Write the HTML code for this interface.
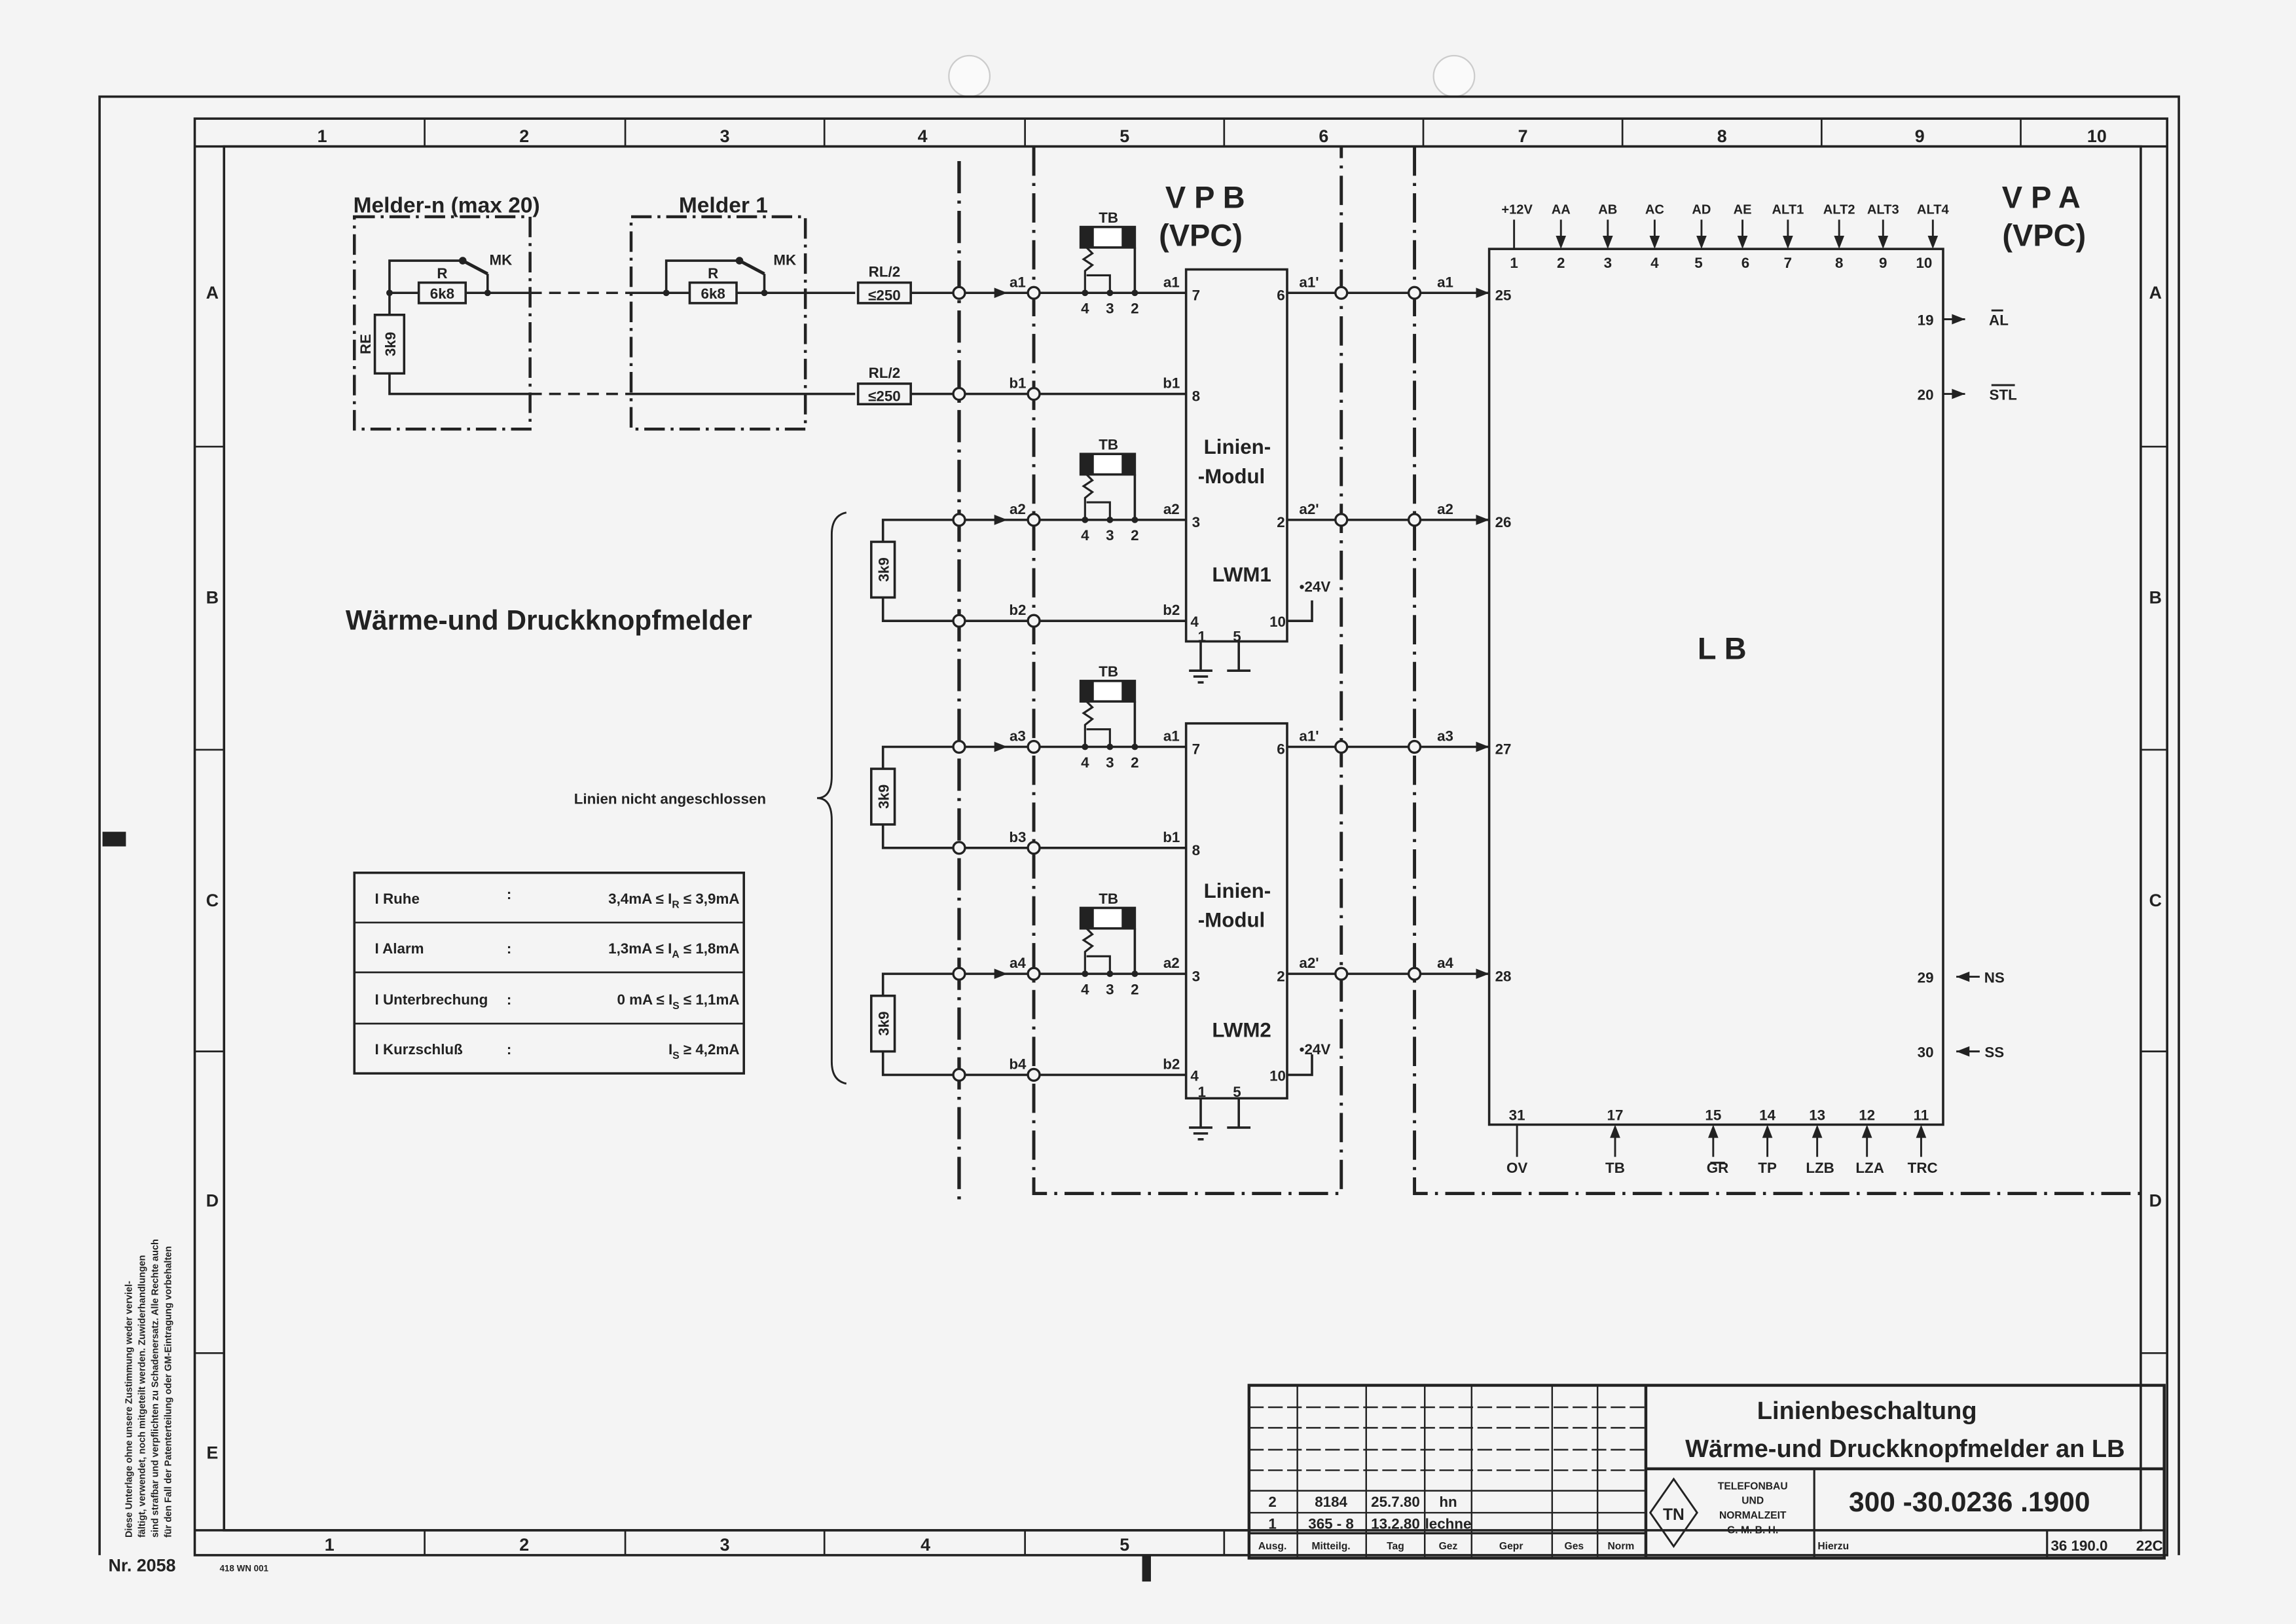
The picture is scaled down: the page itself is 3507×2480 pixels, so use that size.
<!DOCTYPE html>
<html><head><meta charset="utf-8"><style>
html,body{margin:0;padding:0;background:#f4f4f4}
svg{display:block}
text{font-family:"Liberation Sans Narrow","Liberation Sans",sans-serif;fill:#222;font-weight:600}
</style></head><body>
<svg width="3507" height="2480" viewBox="0 0 1568 1109" preserveAspectRatio="none" xmlns="http://www.w3.org/2000/svg">
<defs>
<g id="tb">
 <rect x="738" y="-45" width="37" height="14" fill="#fff" stroke="#222" stroke-width="1.6"/>
 <rect x="738" y="-45" width="9" height="14" fill="#222"/>
 <rect x="766" y="-45" width="9" height="14" fill="#222"/>
 <polyline points="742,-31 746,-27 740,-23 746,-19 741,-15 741,0" fill="none" stroke="#222" stroke-width="1.4"/>
 <polyline points="742,-12 758,-12 758,0" fill="none" stroke="#222" stroke-width="1.4"/>
 <line x1="775" y1="-31" x2="775" y2="0" stroke="#222" stroke-width="1.6"/>
 <circle cx="741" cy="0" r="2.2" fill="#222"/><circle cx="758" cy="0" r="2.2" fill="#222"/><circle cx="775" cy="0" r="2.2" fill="#222"/>
</g>
<g id="node"><circle r="4" fill="#f4f4f4" stroke="#222" stroke-width="1.5"/></g>
<path id="arR" d="M0,0 l-9,-3.5 v7z" fill="#222"/>
</defs>
<rect width="1568" height="1109" fill="#f4f4f4"/>
<circle cx="662" cy="52" r="14" fill="#fafafa" stroke="#ccc"/><circle cx="993" cy="52" r="14" fill="#fafafa" stroke="#ccc"/>
<g stroke="#222" fill="none" stroke-width="1.6">
<polyline points="68,1062 68,66 1488,66 1488,1062"/>
<rect x="133" y="81" width="1347" height="981"/>
<line x1="133" y1="100" x2="1480" y2="100"/>
<line x1="133" y1="1045" x2="853" y2="1045"/>
<rect x="153" y="100" width="1309" height="945"/>
<g stroke-width="1.2">
<line x1="290" y1="81" x2="290" y2="100"/><line x1="427" y1="81" x2="427" y2="100"/><line x1="563" y1="81" x2="563" y2="100"/><line x1="700" y1="81" x2="700" y2="100"/><line x1="836" y1="81" x2="836" y2="100"/><line x1="972" y1="81" x2="972" y2="100"/><line x1="1108" y1="81" x2="1108" y2="100"/><line x1="1244" y1="81" x2="1244" y2="100"/><line x1="1380" y1="81" x2="1380" y2="100"/>
<line x1="290" y1="1045" x2="290" y2="1062"/><line x1="427" y1="1045" x2="427" y2="1062"/><line x1="563" y1="1045" x2="563" y2="1062"/><line x1="700" y1="1045" x2="700" y2="1062"/><line x1="836" y1="1045" x2="836" y2="1062"/>
<line x1="133" y1="305" x2="153" y2="305"/><line x1="133" y1="512" x2="153" y2="512"/><line x1="133" y1="718" x2="153" y2="718"/><line x1="133" y1="924" x2="153" y2="924"/>
<line x1="1462" y1="305" x2="1480" y2="305"/><line x1="1462" y1="512" x2="1480" y2="512"/><line x1="1462" y1="718" x2="1480" y2="718"/><line x1="1462" y1="924" x2="1480" y2="924"/>
</g>
<rect x="242" y="148" width="120" height="145" stroke-width="2" stroke-dasharray="14,4,2,4"/>
<rect x="431" y="148" width="119" height="145" stroke-width="2" stroke-dasharray="14,4,2,4"/>
<polyline points="266,215 266,200 362,200"/>
<line x1="362" y1="200" x2="431" y2="200" stroke-dasharray="8,5"/>
<polyline points="266,200 266,178 316,178"/>
<line x1="316" y1="178" x2="333" y2="187" stroke-width="2.2"/>
<line x1="333" y1="187" x2="333" y2="200"/>
<rect x="286" y="193" width="32" height="14" fill="#f4f4f4"/>
<rect x="256" y="215" width="20" height="40" fill="#f4f4f4"/>
<polyline points="266,255 266,269 362,269"/>
<line x1="362" y1="269" x2="431" y2="269" stroke-dasharray="8,5"/>
<line x1="431" y1="200" x2="584" y2="200"/>
<polyline points="455,200 455,178 505,178"/>
<line x1="505" y1="178" x2="522" y2="187" stroke-width="2.2"/>
<line x1="522" y1="187" x2="522" y2="200"/>
<rect x="471" y="193" width="32" height="14" fill="#f4f4f4"/>
<line x1="431" y1="269" x2="584" y2="269"/>
<rect x="586" y="193" width="36" height="14" fill="#f4f4f4"/>
<rect x="586" y="262" width="36" height="14" fill="#f4f4f4"/>
<line x1="622" y1="200" x2="810" y2="200"/>
<line x1="622" y1="269" x2="810" y2="269"/>
<polyline points="603,370 603,355 810,355"/><polyline points="603,408 603,424 810,424"/>
<rect x="595" y="370" width="16" height="38" fill="#f4f4f4"/>
<polyline points="603,525 603,510 810,510"/><polyline points="603,563 603,579 810,579"/>
<rect x="595" y="525" width="16" height="38" fill="#f4f4f4"/>
<polyline points="603,680 603,665 810,665"/><polyline points="603,718 603,734 810,734"/>
<rect x="595" y="680" width="16" height="38" fill="#f4f4f4"/>
<path d="M578,350 Q568,352 568,365 L568,530 Q568,545 558,545 Q568,545 568,560 L568,725 Q568,738 578,740" stroke-width="1.3"/>
<rect x="810" y="184" width="69" height="254"/>
<rect x="810" y="494" width="69" height="256"/>
<polyline points="879,424 896,424 896,410"/><polyline points="879,734 896,734 896,720"/>
<line x1="820" y1="438" x2="820" y2="458"/><line x1="812" y1="458" x2="828" y2="458"/><line x1="815" y1="462" x2="825" y2="462"/><line x1="818" y1="466" x2="822" y2="466"/>
<line x1="846" y1="438" x2="846" y2="458"/><line x1="838" y1="458" x2="854" y2="458"/>
<line x1="820" y1="750" x2="820" y2="770"/><line x1="812" y1="770" x2="828" y2="770"/><line x1="815" y1="774" x2="825" y2="774"/><line x1="818" y1="778" x2="822" y2="778"/>
<line x1="846" y1="750" x2="846" y2="770"/><line x1="838" y1="770" x2="854" y2="770"/>
<line x1="879" y1="200" x2="1017" y2="200"/><line x1="879" y1="355" x2="1017" y2="355"/>
<line x1="879" y1="510" x2="1017" y2="510"/><line x1="879" y1="665" x2="1017" y2="665"/>
<line x1="655" y1="110" x2="655" y2="820" stroke-width="2.4" stroke-dasharray="22,5,2,5"/>
<polyline points="706,100 706,815 916,815 916,100" stroke-width="2.2" stroke-dasharray="20,5,2,5"/>
<polyline points="966,100 966,815 1462,815" stroke-width="2.2" stroke-dasharray="20,5,2,5"/>
<rect x="1017" y="170" width="310" height="598"/>
<g stroke-width="1.3">
<line x1="1034" y1="150" x2="1034" y2="170"/>
<line x1="1066" y1="150" x2="1066" y2="162"/><line x1="1098" y1="150" x2="1098" y2="162"/><line x1="1130" y1="150" x2="1130" y2="162"/><line x1="1162" y1="150" x2="1162" y2="162"/><line x1="1190" y1="150" x2="1190" y2="162"/><line x1="1221" y1="150" x2="1221" y2="162"/><line x1="1256" y1="150" x2="1256" y2="162"/><line x1="1286" y1="150" x2="1286" y2="162"/><line x1="1320" y1="150" x2="1320" y2="162"/>
<line x1="1327" y1="218" x2="1342" y2="218"/><line x1="1327" y1="269" x2="1342" y2="269"/>
<line x1="1336" y1="667" x2="1352" y2="667"/><line x1="1336" y1="718" x2="1352" y2="718"/>
<line x1="1036" y1="768" x2="1036" y2="790"/>
<line x1="1103" y1="776" x2="1103" y2="790"/><line x1="1170" y1="776" x2="1170" y2="790"/><line x1="1207" y1="776" x2="1207" y2="790"/><line x1="1241" y1="776" x2="1241" y2="790"/><line x1="1275" y1="776" x2="1275" y2="790"/><line x1="1312" y1="776" x2="1312" y2="790"/>
<line x1="1360" y1="212" x2="1368" y2="212"/><line x1="1360" y1="263" x2="1376" y2="263"/><line x1="1168" y1="794" x2="1178" y2="794"/>
</g>
<rect x="242" y="596" width="266" height="137"/>
<line x1="242" y1="630" x2="508" y2="630" stroke-width="1.2"/><line x1="242" y1="664" x2="508" y2="664" stroke-width="1.2"/><line x1="242" y1="699" x2="508" y2="699" stroke-width="1.2"/>
<rect x="853" y="946" width="625" height="118" stroke-width="2"/>
<line x1="1124" y1="946" x2="1124" y2="1064" stroke-width="2"/>
<line x1="1124" y1="1003" x2="1478" y2="1003" stroke-width="2"/>
<line x1="1239" y1="1003" x2="1239" y2="1064" stroke-width="1.4"/>
<line x1="1239" y1="1045" x2="1478" y2="1045" stroke-width="1.4"/>
<line x1="1398" y1="1045" x2="1398" y2="1064" stroke-width="1.4"/>
<g stroke-width="1.1">
<line x1="886" y1="946" x2="886" y2="1064"/><line x1="933" y1="946" x2="933" y2="1064"/><line x1="973" y1="946" x2="973" y2="1064"/><line x1="1005" y1="946" x2="1005" y2="1064"/><line x1="1060" y1="946" x2="1060" y2="1064"/><line x1="1091" y1="946" x2="1091" y2="1064"/>
<line x1="853" y1="961" x2="1124" y2="961" stroke-dasharray="10,3"/><line x1="853" y1="975" x2="1124" y2="975" stroke-dasharray="10,3"/><line x1="853" y1="990" x2="1124" y2="990" stroke-dasharray="10,3"/><line x1="853" y1="1004" x2="1124" y2="1004" stroke-dasharray="10,3"/>
<line x1="853" y1="1018" x2="1124" y2="1018"/><line x1="853" y1="1033" x2="1124" y2="1033"/><line x1="853" y1="1047" x2="1124" y2="1047" stroke-width="1.6"/>
</g>
<polygon points="1143,1010 1159,1033 1143,1056 1127,1033" stroke-width="1.3"/>
</g>
<g fill="#222">
<circle cx="316" cy="178" r="2.6"/><circle cx="266" cy="200" r="2.2"/><circle cx="333" cy="200" r="2.2"/>
<circle cx="505" cy="178" r="2.6"/><circle cx="455" cy="200" r="2.2"/><circle cx="522" cy="200" r="2.2"/>
</g>
<use href="#tb" y="200"/><use href="#tb" y="355"/><use href="#tb" y="510"/><use href="#tb" y="665"/>
<g>
<use href="#node" x="655" y="200"/><use href="#node" x="706" y="200"/><use href="#node" x="655" y="269"/><use href="#node" x="706" y="269"/>
<use href="#node" x="655" y="355"/><use href="#node" x="706" y="355"/><use href="#node" x="655" y="424"/><use href="#node" x="706" y="424"/>
<use href="#node" x="655" y="510"/><use href="#node" x="706" y="510"/><use href="#node" x="655" y="579"/><use href="#node" x="706" y="579"/>
<use href="#node" x="655" y="665"/><use href="#node" x="706" y="665"/><use href="#node" x="655" y="734"/><use href="#node" x="706" y="734"/>
<use href="#node" x="916" y="200"/><use href="#node" x="966" y="200"/><use href="#node" x="916" y="355"/><use href="#node" x="966" y="355"/>
<use href="#node" x="916" y="510"/><use href="#node" x="966" y="510"/><use href="#node" x="916" y="665"/><use href="#node" x="966" y="665"/>
</g>
<use href="#arR" x="688" y="200"/><use href="#arR" x="688" y="355"/><use href="#arR" x="688" y="510"/><use href="#arR" x="688" y="665"/>
<use href="#arR" x="1017" y="200"/><use href="#arR" x="1017" y="355"/><use href="#arR" x="1017" y="510"/><use href="#arR" x="1017" y="665"/>
<use href="#arR" x="1342" y="218"/><use href="#arR" x="1342" y="269"/>
<use href="#arR" transform="translate(1327,667) rotate(180) translate(-9,0)"/><use href="#arR" transform="translate(1327,718) rotate(180) translate(-9,0)"/>
<g fill="#222">
<path d="M1066,170 l-3.5,-9 h7z"/><path d="M1098,170 l-3.5,-9 h7z"/><path d="M1130,170 l-3.5,-9 h7z"/><path d="M1162,170 l-3.5,-9 h7z"/><path d="M1190,170 l-3.5,-9 h7z"/><path d="M1221,170 l-3.5,-9 h7z"/><path d="M1256,170 l-3.5,-9 h7z"/><path d="M1286,170 l-3.5,-9 h7z"/><path d="M1320,170 l-3.5,-9 h7z"/>
<path d="M1103,768 l-3.5,9 h7z"/><path d="M1170,768 l-3.5,9 h7z"/><path d="M1207,768 l-3.5,9 h7z"/><path d="M1241,768 l-3.5,9 h7z"/><path d="M1275,768 l-3.5,9 h7z"/><path d="M1312,768 l-3.5,9 h7z"/>
<rect x="70" y="568" width="16" height="10"/><rect x="780" y="1062" width="6" height="18"/>
</g>
<g font-size="12" text-anchor="middle">
<text x="220" y="97">1</text><text x="358" y="97">2</text><text x="495" y="97">3</text><text x="630" y="97">4</text><text x="768" y="97">5</text><text x="904" y="97">6</text><text x="1040" y="97">7</text><text x="1176" y="97">8</text><text x="1311" y="97">9</text><text x="1432" y="97">10</text>
<text x="225" y="1059">1</text><text x="358" y="1059">2</text><text x="495" y="1059">3</text><text x="632" y="1059">4</text><text x="768" y="1059">5</text>
<text x="145" y="204">A</text><text x="145" y="412">B</text><text x="145" y="619">C</text><text x="145" y="824">D</text><text x="145" y="996">E</text>
<text x="1472" y="204">A</text><text x="1472" y="412">B</text><text x="1472" y="619">C</text><text x="1472" y="824">D</text>
</g>
<g font-size="15" text-anchor="middle">
<text x="305" y="145">Melder-n (max 20)</text><text x="494" y="145">Melder 1</text>
</g>
<g font-size="10" text-anchor="middle">
<text x="302" y="190">R</text><text x="302" y="204">6k8</text><text x="342" y="181">MK</text>
<text x="487" y="190">R</text><text x="487" y="204">6k8</text><text x="536" y="181">MK</text>
<text x="604" y="189">RL/2</text><text x="604" y="205">≤250</text>
<text x="604" y="258">RL/2</text><text x="604" y="274">≤250</text>
<text transform="translate(270,235) rotate(-90)">3k9</text><text transform="translate(253,235) rotate(-90)">RE</text>
<text transform="translate(607,389) rotate(-90)">3k9</text><text transform="translate(607,544) rotate(-90)">3k9</text><text transform="translate(607,699) rotate(-90)">3k9</text>
<text x="757" y="152">TB</text><text x="757" y="307">TB</text><text x="757" y="462">TB</text><text x="757" y="617">TB</text>
<text x="741" y="214">4</text><text x="758" y="214">3</text><text x="775" y="214">2</text>
<text x="741" y="369">4</text><text x="758" y="369">3</text><text x="775" y="369">2</text>
<text x="741" y="524">4</text><text x="758" y="524">3</text><text x="775" y="524">2</text>
<text x="741" y="679">4</text><text x="758" y="679">3</text><text x="775" y="679">2</text>
<text x="695" y="196">a1</text><text x="695" y="265">b1</text><text x="695" y="351">a2</text><text x="695" y="420">b2</text>
<text x="695" y="506">a3</text><text x="695" y="575">b3</text><text x="695" y="661">a4</text><text x="695" y="730">b4</text>
<text x="800" y="196">a1</text><text x="800" y="265">b1</text><text x="800" y="351">a2</text><text x="800" y="420">b2</text>
<text x="800" y="506">a1</text><text x="800" y="575">b1</text><text x="800" y="661">a2</text><text x="800" y="730">b2</text>
<text x="894" y="196">a1'</text><text x="894" y="351">a2'</text><text x="894" y="506">a1'</text><text x="894" y="661">a2'</text>
<text x="987" y="196">a1</text><text x="987" y="351">a2</text><text x="987" y="506">a3</text><text x="987" y="661">a4</text>
<text x="898" y="404">•24V</text><text x="898" y="720">•24V</text>
</g>
<g font-size="10">
<text x="814" y="205">7</text><text x="814" y="274">8</text><text x="814" y="360">3</text><text x="813" y="428">4</text>
<text x="814" y="515">7</text><text x="814" y="584">8</text><text x="814" y="670">3</text><text x="813" y="738">4</text>
<text x="872" y="205">6</text><text x="872" y="360">2</text><text x="867" y="428">10</text>
<text x="872" y="515">6</text><text x="872" y="670">2</text><text x="867" y="738">10</text>
<text x="818" y="438">1</text><text x="842" y="438">5</text><text x="818" y="749">1</text><text x="842" y="749">5</text>
<text x="1021" y="205">25</text><text x="1021" y="360">26</text><text x="1021" y="515">27</text><text x="1021" y="670">28</text>
</g>
<g font-size="14" text-anchor="middle">
<text x="845" y="310">Linien-</text><text x="841" y="330">-Modul</text><text x="848" y="397">LWM1</text>
<text x="845" y="613">Linien-</text><text x="841" y="633">-Modul</text><text x="848" y="708">LWM2</text>
</g>
<g font-size="21" text-anchor="middle">
<text x="823" y="142">V P B</text><text x="820" y="168">(VPC)</text>
<text x="1394" y="142">V P A</text><text x="1396" y="168">(VPC)</text>
<text x="1176" y="450">L B</text>
</g>
<g font-size="9" text-anchor="middle">
<text x="1036" y="146">+12V</text><text x="1066" y="146">AA</text><text x="1098" y="146">AB</text><text x="1130" y="146">AC</text><text x="1162" y="146">AD</text><text x="1190" y="146">AE</text><text x="1221" y="146">ALT1</text><text x="1256" y="146">ALT2</text><text x="1286" y="146">ALT3</text><text x="1320" y="146">ALT4</text>
</g>
<g font-size="10" text-anchor="middle">
<text x="1034" y="183">1</text><text x="1066" y="183">2</text><text x="1098" y="183">3</text><text x="1130" y="183">4</text><text x="1160" y="183">5</text><text x="1192" y="183">6</text><text x="1221" y="183">7</text><text x="1256" y="183">8</text><text x="1286" y="183">9</text><text x="1314" y="183">10</text>
<text x="1315" y="222">19</text><text x="1315" y="273">20</text><text x="1315" y="671">29</text><text x="1315" y="722">30</text>
<text x="1365" y="222">AL</text><text x="1368" y="273">STL</text><text x="1362" y="671">NS</text><text x="1362" y="722">SS</text>
<text x="1036" y="765">31</text><text x="1103" y="765">17</text><text x="1170" y="765">15</text><text x="1207" y="765">14</text><text x="1241" y="765">13</text><text x="1275" y="765">12</text><text x="1312" y="765">11</text>
<text x="1036" y="801">OV</text><text x="1103" y="801">TB</text><text x="1173" y="801">GR</text><text x="1207" y="801">TP</text><text x="1243" y="801">LZB</text><text x="1277" y="801">LZA</text><text x="1313" y="801">TRC</text>
</g>
<text x="236" y="430" font-size="19">Wärme-und Druckknopfmelder</text>
<text x="392" y="549" font-size="10">Linien nicht angeschlossen</text>
<g font-size="10">
<text x="256" y="617">I Ruhe</text><text x="346" y="614">:</text><text x="505" y="617" text-anchor="end">3,4mA ≤ I<tspan font-size="7" dy="3">R</tspan><tspan dy="-3"> ≤ 3,9mA</tspan></text>
<text x="256" y="651">I Alarm</text><text x="346" y="651">:</text><text x="505" y="651" text-anchor="end">1,3mA ≤ I<tspan font-size="7" dy="3">A</tspan><tspan dy="-3"> ≤ 1,8mA</tspan></text>
<text x="256" y="686">I Unterbrechung</text><text x="346" y="686">:</text><text x="505" y="686" text-anchor="end">0 mA ≤ I<tspan font-size="7" dy="3">S</tspan><tspan dy="-3"> ≤ 1,1mA</tspan></text>
<text x="256" y="720">I Kurzschluß</text><text x="346" y="720">:</text><text x="505" y="720" text-anchor="end">I<tspan font-size="7" dy="3">S</tspan><tspan dy="-3"> ≥ 4,2mA</tspan></text>
</g>
<g font-size="17" text-anchor="middle">
<text x="1275" y="969">Linienbeschaltung</text>
<text x="1301" y="995">Wärme-und Druckknopfmelder an LB</text>
<text x="1345" y="1032" font-size="19">300 -30.0236 .1900</text>
</g>
<g font-size="7" text-anchor="middle">
<text x="1197" y="1017">TELEFONBAU</text><text x="1197" y="1027">UND</text><text x="1197" y="1037">NORMALZEIT</text><text x="1197" y="1047">G. M. B. H.</text>
<text x="869" y="1058">Ausg.</text><text x="909" y="1058">Mitteilg.</text><text x="953" y="1058">Tag</text><text x="989" y="1058">Gez</text><text x="1032" y="1058">Gepr</text><text x="1075" y="1058">Ges</text><text x="1107" y="1058">Norm</text>
<text x="1252" y="1058">Hierzu</text>
</g>
<text x="1143" y="1038" font-size="11" text-anchor="middle">TN</text>
<g font-size="10" text-anchor="middle">
<text x="869" y="1029">2</text><text x="909" y="1029">8184</text><text x="953" y="1029">25.7.80</text><text x="989" y="1029">hn</text>
<text x="869" y="1044">1</text><text x="909" y="1044">365 - 8</text><text x="953" y="1044">13.2.80</text><text x="989" y="1044">lechne</text>
<text x="1420" y="1059">36 190.0</text><text x="1468" y="1059">22C</text>
</g>
<g font-size="6.5">
<text transform="translate(90,1050) rotate(-90)">Diese Unterlage  ohne unsere Zustimmung weder verviel-</text>
<text transform="translate(99,1050) rotate(-90)">fältigt, verwendet, noch mitgeteilt werden. Zuwiderhandlungen</text>
<text transform="translate(108,1050) rotate(-90)">sind strafbar und verpflichten zu Schadenersatz. Alle Rechte auch</text>
<text transform="translate(117,1050) rotate(-90)">für den Fall der Patenterteilung oder GM-Eintragung vorbehalten</text>
</g>
<text x="74" y="1073" font-size="12">Nr. 2058</text>
<text x="150" y="1073" font-size="6">418 WN 001</text>
</svg>
</body></html>
